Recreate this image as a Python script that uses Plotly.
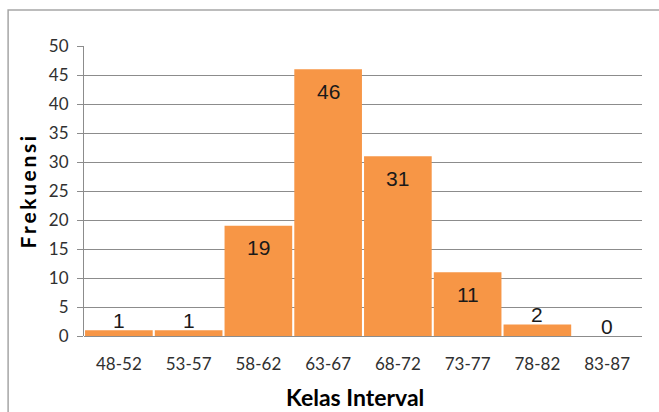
import plotly.graph_objects as go

categories = ["48-52", "53-57", "58-62", "63-67", "68-72", "73-77", "78-82", "83-87"]
frekuensi = [1, 1, 19, 46, 31, 11, 2, 0]
y_ticks = [0, 5, 10, 15, 20, 25, 30, 35, 40, 45, 50]

bar_color = "#F79646"
grid_color = "#8C8C8C"

fig = go.Figure()
fig.add_trace(go.Bar(
    x=categories, y=frekuensi,
    marker=dict(color=bar_color, line=dict(width=0)),
    hoverinfo="x+y",
))

annotations = []
for c, v in zip(categories, frekuensi):
    inside = v >= 10
    annotations.append(dict(
        x=c, y=v, xref="x", yref="y", text=str(v), showarrow=False,
        yanchor="middle", yshift=(-22 if inside else 10),
        font=dict(family="Liberation Sans, Arial", size=21, color="#1a1a1a"),
    ))

annotations.append(dict(
    x=0.5, y=-0.2, xref="paper", yref="paper", text="<b>Kelas Interval</b>",
    showarrow=False, yanchor="middle", xanchor="center", xshift=-8, yshift=-3,
    font=dict(family="Lato, Open Sans, sans-serif", size=23, color="#000000"),
))
annotations.append(dict(
    x=-0.103, y=0.5, xref="paper", yref="paper", text="<b>F\u2009r\u2009e\u2009k\u2009u\u2009e\u2009n\u2009s\u2009i</b>",
    showarrow=False, textangle=-90, xanchor="center", yanchor="middle", yshift=-1,
    font=dict(family="Lato, Open Sans, sans-serif", size=21, color="#000000"),
))

fig.update_layout(
    width=659, height=412,
    margin=dict(l=84, r=17, t=46, b=76),
    paper_bgcolor="white", plot_bgcolor="white",
    bargap=0.03,
    showlegend=False,
    annotations=annotations,
    shapes=[dict(
        type="rect", xref="paper", yref="paper",
        x0=-0.1360, x1=1.1, y0=-0.35, y1=1.1238,
        line=dict(color="#A6A6A6", width=1.5), fillcolor="rgba(0,0,0,0)", layer="below",
    )],
    xaxis=dict(
        showgrid=False, showline=False, ticks="",
        tickfont=dict(family="Lato, Open Sans, sans-serif", size=17, color="#303030"),
        ticklabelstandoff=16,
    ),
    yaxis=dict(
        range=[0, 50], tickvals=y_ticks, showgrid=True, gridcolor=grid_color, gridwidth=1.2,
        showline=True, linecolor=grid_color, linewidth=1.2,
        ticks="outside", ticklen=6, tickcolor=grid_color, tickwidth=1.2,
        tickfont=dict(family="Lato, Open Sans, sans-serif", size=17, color="#303030"),
        zeroline=True, zerolinecolor=grid_color, zerolinewidth=1.2,
        ticklabelstandoff=5,
    ),
)

fig.write_html("out.html")
